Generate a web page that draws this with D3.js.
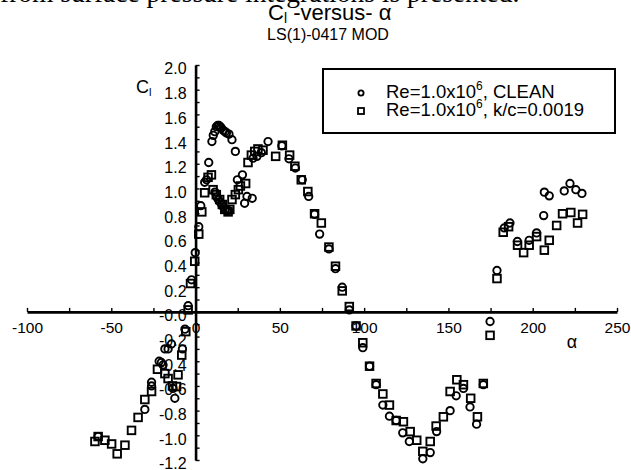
<!DOCTYPE html>
<html>
<head>
<meta charset="utf-8">
<script src="https://cdn.jsdelivr.net/npm/d3@7"></script>
<style>
  body { margin: 0; background: #fff; }
  svg { display: block; font-family: "Liberation Sans", Arial, sans-serif; }
</style>
</head>
<body>
<svg id="chart" width="631" height="470"></svg>
<script>
// Lift coefficient vs angle of attack, LS(1)-0417 MOD, Re = 1.0x10^6
const alphaClean = [-57.8, -30.1, -26.1, -26.1, -21.6, -20.3, -19.3, -18.2, -16.3, -14.3, -13.4, -12.3, -7.8, -6.3, -4.4, -2.4, -0.2,
  1.9, 3.1, 5.4, 6.5, 7.8, 9.7, 10.5, 11.4, 12.3, 13.1, 13.9, 14.7, 15.3, 16.5, 17.5, 18.3, 19.8, 21.6, 23.6,
  11.5, 12.5, 13.5, 14.5, 15.5, 16.5, 17.5, 18.5, 19.5,
  24.8, 27.8, 29.1, 30.5, 33.6, 34.1, 36.4, 39.0, 43.0, 51.2, 55.4, 59.2, 63.3, 67.1, 70.6, 73.6, 79.1, 83.0, 87.0, 91.2, 95.2,
  99.2, 103.2, 107.1, 111.1, 115.0, 119.0, 122.9, 126.8, 134.8, 139.2, 143.0, 151.0, 154.6, 158.9, 162.8, 166.7, 170.7,
  174.7, 178.8, 183.1, 186.5, 190.9, 197.9, 202.3, 206.5, 206.9, 209.8, 218.7, 222.1, 225.6, 229.2];
const clClean = [-1.01, -0.79, -0.57, -0.60, -0.40, -0.41, -0.43, -0.30, -0.30, -0.26, -0.62, -0.70, -0.30, -0.14, 0.05, 0.26, 0.48,
  0.69, 0.86, 1.05, 1.07, 1.21, 1.38, 1.43, 1.46, 1.50, 1.51, 1.51, 1.50, 1.49, 1.47, 1.46, 1.45, 1.44, 1.395, 1.30,
  0.97, 0.93, 0.91, 0.89, 0.87, 0.85, 0.83, 0.82, 0.82,
  1.07, 1.11, 0.88, 0.935, 0.92, 1.245, 1.26, 1.29, 1.38, 1.345, 1.24, 1.165, 1.07, 0.935, 0.79, 0.63, 0.51, 0.35, 0.20, 0.016, -0.114,
  -0.29, -0.44, -0.59, -0.755, -0.845, -0.88, -0.98, -1.05, -1.19, -1.14, -0.97, -0.80, -0.68, -0.62, -0.77, -0.91, -0.59,
  -0.078, 0.335, 0.68, 0.72, 0.57, 0.58, 0.64, 0.78, 0.97, 0.94, 0.98, 1.04, 0.99, 0.96];

const alphaRough = [-59.7, -57.8, -53.8, -49.8, -46.5, -41.9, -38.0, -34.1, -30.1, -26.1, -22.6, -18.2, -16.3, -13.7, -11.3, -10.4, -8.2, -5.8, -4.4, -3.0, -0.5,
  1.9, 3.7, 5.4, 7.4, 9.4, 10.4, 12.3, 14.3, 15.9, 17.3, 19.3, 20.3, 21.6, 23.6, 25.4, 26.6, 29.7, 31.1, 33.1, 35.1, 37.0, 40.0,
  47.5, 51.5, 55.8, 58.9, 62.7, 66.6, 70.6, 74.6, 79.1, 83.0, 87.0, 91.2, 95.2, 99.2, 103.2, 107.1, 111.1, 115.0, 119.0, 123.3,
  127.3, 131.2, 134.8, 139.2, 142.7, 147.0, 151.0, 155.0, 158.9, 163.2, 167.2, 170.7, 174.7, 178.8, 182.5, 185.7, 191.0, 194.6,
  197.9, 202.3, 206.9, 209.8, 214.2, 217.7, 222.6, 226.6, 229.6];
const clRough = [-1.05, -1.01, -1.04, -1.07, -1.15, -1.08, -0.96, -0.855, -0.71, -0.645, -0.465, -0.50, -0.54, -0.60, -0.605, -0.51, -0.35, -0.16, 0.016, 0.23, 0.41,
  0.63, 0.81, 0.965, 1.09, 1.11, 0.99, 0.95, 0.91, 0.87, 0.83, 0.81, 0.83, 0.91, 0.95, 0.99, 1.02, 1.04, 1.21, 1.27, 1.30, 1.32, 1.31,
  1.26, 1.35, 1.27, 1.18, 1.07, 0.975, 0.795, 0.72, 0.525, 0.37, 0.17, 0.043, -0.114, -0.25, -0.44, -0.58, -0.665, -0.755, -0.88, -0.89,
  -0.97, -1.04, -1.13, -1.05, -0.925, -0.85, -0.645, -0.55, -0.59, -0.70, -0.85, -0.58, -0.19, 0.27, 0.645, 0.69, 0.54, 0.48,
  0.54, 0.61, 0.50, 0.58, 0.70, 0.795, 0.805, 0.72, 0.79];

const xTickValues = [-100, -75, -50, -25, 0, 25, 50, 75, 100, 125, 150, 175, 200, 225, 250];
const xTickLabels = ["-100", "", "-50", "", "0", "", "50", "", "100", "", "150", "", "200", "", "250"];
const yTickValues = [2.0, 1.9, 1.8, 1.7, 1.6, 1.5, 1.4, 1.3, 1.2, 1.1, 1.0, 0.9, 0.8, 0.7, 0.6, 0.5, 0.4, 0.3, 0.2, 0.1, 0.0,
  -0.1, -0.2, -0.3, -0.4, -0.5, -0.6, -0.7, -0.8, -0.9, -1.0, -1.1, -1.2];
const yTickLabels = ["2.0", "", "1.8", "", "1.6", "", "1.4", "", "1.2", "", "1.0", "", "0.8", "", "0.6", "", "0.4", "", "0.2", "", "-0.0",
  "", "-0.2", "", "-0.4", "", "-0.6", "", "-0.8", "", "-1.0", "", "-1.2"];

const seriesNames = ["CLEAN", "k/c=0.0019"];

const svg = d3.select("#chart");

const x = d3.scaleLinear().domain([-100, 250]).range([27, 617]);
const y = d3.scaleLinear().domain([-1.2, 2.0]).range([460, 65]);

// Header text running off the top edge
svg.append("text")
  .attr("x", 0).attr("y", 2)
  .style("font-family", "'Liberation Serif', 'Times New Roman', serif")
  .style("font-size", "27.5px")
  .text("from surface pressure integrations is presented.");

// Title
const title = svg.append("text").attr("x", 268).attr("y", 20).style("font-size", "22px");
title.append("tspan").text("C");
title.append("tspan").attr("dy", 3).style("font-size", "14px").text("l");
title.append("tspan").attr("dy", -3).text(" -versus- α");

svg.append("text")
  .attr("x", 328).attr("y", 40)
  .attr("text-anchor", "middle")
  .style("font-size", "16px")
  .text("LS(1)-0417 MOD");

// Axes crossing at the origin
const xAxis = d3.axisBottom(x)
  .tickValues(xTickValues)
  .tickFormat((d, i) => xTickLabels[i])
  .tickSize(-4).tickSizeOuter(0).tickPadding(10);

const yAxis = d3.axisLeft(y)
  .tickValues(yTickValues)
  .tickFormat((d, i) => yTickLabels[i])
  .tickSize(-4).tickSizeOuter(0).tickPadding(9);

const gx = svg.append("g").attr("transform", `translate(0,${y(0)})`).call(xAxis);
const gy = svg.append("g").attr("transform", `translate(${x(0)},0)`).call(yAxis);

[gx, gy].forEach(g => {
  g.select(".domain").attr("stroke", "#000").attr("stroke-width", 2.6);
  g.selectAll(".tick line").attr("stroke", "#000").attr("stroke-width", 1.4);
  g.selectAll(".tick text")
    .attr("fill", "#000")
    .style("font-family", "'Liberation Sans', Arial, sans-serif");
});
gx.selectAll(".tick text").style("font-size", "15.5px");
gy.selectAll(".tick text").style("font-size", "16px").attr("dy", "0.56em");

// Axis titles
const yTitle = svg.append("text").attr("x", 136).attr("y", 93).style("font-size", "18px");
yTitle.append("tspan").text("C");
yTitle.append("tspan").attr("dy", 3).style("font-size", "11px").text("l");

svg.append("text")
  .attr("x", 572).attr("y", 348)
  .attr("text-anchor", "middle")
  .style("font-size", "18px")
  .text("α");

// Data markers
const clean = alphaClean.map((a, i) => ({ a, cl: clClean[i] }));
const rough = alphaRough.map((a, i) => ({ a, cl: clRough[i] }));

svg.append("g").selectAll("circle")
  .data(clean).join("circle")
  .attr("cx", d => x(d.a)).attr("cy", d => y(d.cl))
  .attr("r", 3.7)
  .attr("fill", "none").attr("stroke", "#000").attr("stroke-width", 1.9);

const sq = 7.6;
svg.append("g").selectAll("rect")
  .data(rough).join("rect")
  .attr("x", d => x(d.a) - sq / 2).attr("y", d => y(d.cl) - sq / 2)
  .attr("width", sq).attr("height", sq)
  .attr("fill", "none").attr("stroke", "#000").attr("stroke-width", 1.9);

// Legend
const legend = svg.append("g");
legend.append("rect")
  .attr("x", 323).attr("y", 69).attr("width", 292).attr("height", 64)
  .attr("fill", "#fff").attr("stroke", "#000").attr("stroke-width", 2);

legend.append("circle").attr("cx", 361).attr("cy", 93).attr("r", 2.6)
  .attr("fill", "none").attr("stroke", "#000").attr("stroke-width", 1.8);
legend.append("rect").attr("x", 358).attr("y", 108).attr("width", 6).attr("height", 6)
  .attr("fill", "none").attr("stroke", "#000").attr("stroke-width", 1.8);

seriesNames.forEach((name, i) => {
  const t = legend.append("text")
    .attr("x", 386).attr("y", 98 + i * 18)
    .style("font-size", "18.5px");
  t.append("tspan").text("Re=1.0x10");
  t.append("tspan").attr("dy", -8).style("font-size", "12px").text("6");
  t.append("tspan").attr("dy", 8).text(", " + name);
});
</script>
</body>
</html>
